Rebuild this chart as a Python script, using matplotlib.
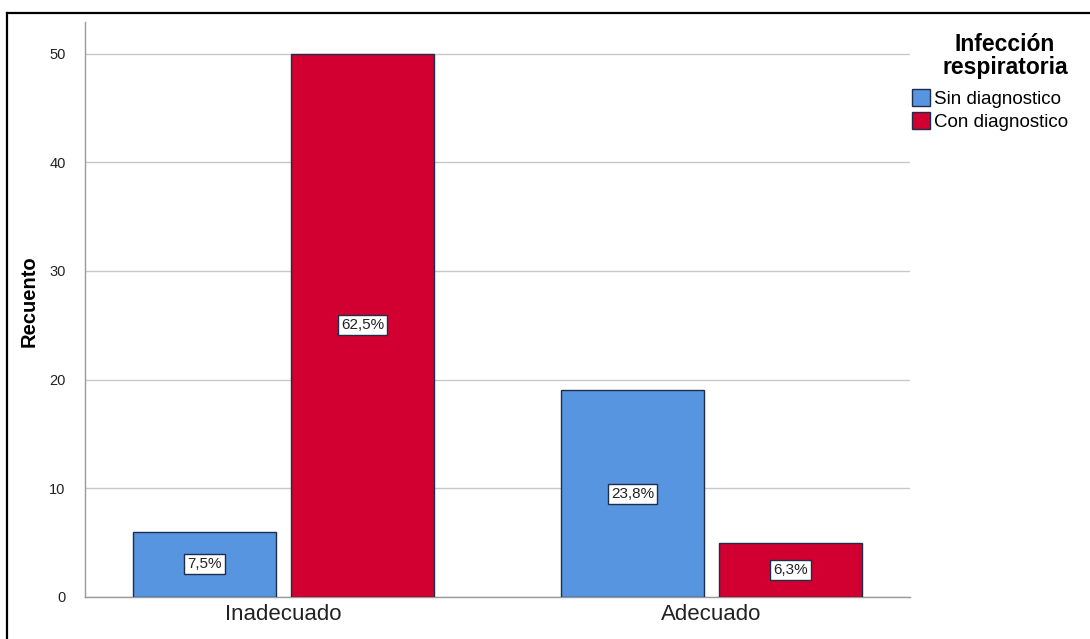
import matplotlib.pyplot as plt
import matplotlib.patches as mpatches
import numpy as np

categorias = ["Inadecuado", "Adecuado"]
series = ["Sin diagnostico", "Con diagnostico"]
sin_diag = [6, 19]
con_diag = [50, 5]
pct_sin = ["7,5%", "23,8%"]
pct_con = ["62,5%", "6,3%"]

azul = "#5795e0"
rojo = "#d20030"
borde = "#1e2d4a"

plt.rcParams['font.family'] = ['Liberation Sans', 'DejaVu Sans']

fig = plt.figure(figsize=(10.9, 6.39), dpi=100)
ax = fig.add_axes([85/1090, 1-597/639, (910-85)/1090, (597-22)/639])

x = np.arange(len(categorias))
w = 0.334
off = 0.1846
b1 = ax.bar(x - off, sin_diag, w, color=azul, edgecolor=borde, linewidth=1, zorder=3)
b2 = ax.bar(x + off, con_diag, w, color=rojo, edgecolor=borde, linewidth=1, zorder=3)

box = dict(boxstyle="square,pad=0.2", fc="white", ec=borde, lw=1)
for bars, labs in [(b1, pct_sin), (b2, pct_con)]:
    for r, t in zip(bars, labs):
        ax.text(r.get_x() + r.get_width()/2, r.get_height()/2, t, ha="center", va="center",
                fontsize=11, color="#222222", bbox=box, zorder=4)

ax.set_xlim(-0.464, 1.464)
ax.set_ylim(0, 52.9)
ax.set_yticks([0, 10, 20, 30, 40, 50])
ax.set_xticks(x)
ax.set_xticklabels(categorias, fontsize=16, color="#222222")
ax.tick_params(axis="y", length=0, pad=14, labelsize=10.5, colors="#222222")
ax.tick_params(axis="x", length=0, pad=5)
ax.yaxis.grid(True, color="#c8c8c8", linewidth=1, zorder=0)
ax.set_axisbelow(True)
for s in ["top", "right"]:
    ax.spines[s].set_visible(False)
for s in ["left", "bottom"]:
    ax.spines[s].set_color("#999999")
    ax.spines[s].set_linewidth(1)
ax.set_ylabel("Recuento", fontsize=14.5, fontweight="bold")
ax.yaxis.set_label_coords(-0.056, (597-301)/575)

# leyenda
fig.text(1005/1090, 1-56/639, "Infección\nrespiratoria", ha="center", va="center",
         fontsize=16.5, fontweight="bold", linespacing=1.0, multialignment="center")
handles = [mpatches.Patch(facecolor=azul, edgecolor=borde), mpatches.Patch(facecolor=rojo, edgecolor=borde)]
leg = fig.legend(handles, series, loc="upper left", bbox_to_anchor=(912/1090, 1-89/639),
                 frameon=False, fontsize=13.5, borderpad=0,
                 handlelength=0.95, handleheight=1.05, handletextpad=0.2, labelspacing=0.2,
                 borderaxespad=0)

# marco exterior
fig.add_artist(plt.Line2D([7/1090, 7/1090], [0, 1-13/639], color="black", lw=1.6))
fig.add_artist(plt.Line2D([7/1090, 1], [1-13/639, 1-13/639], color="black", lw=1.6))

fig.savefig("out.png", dpi=100)
